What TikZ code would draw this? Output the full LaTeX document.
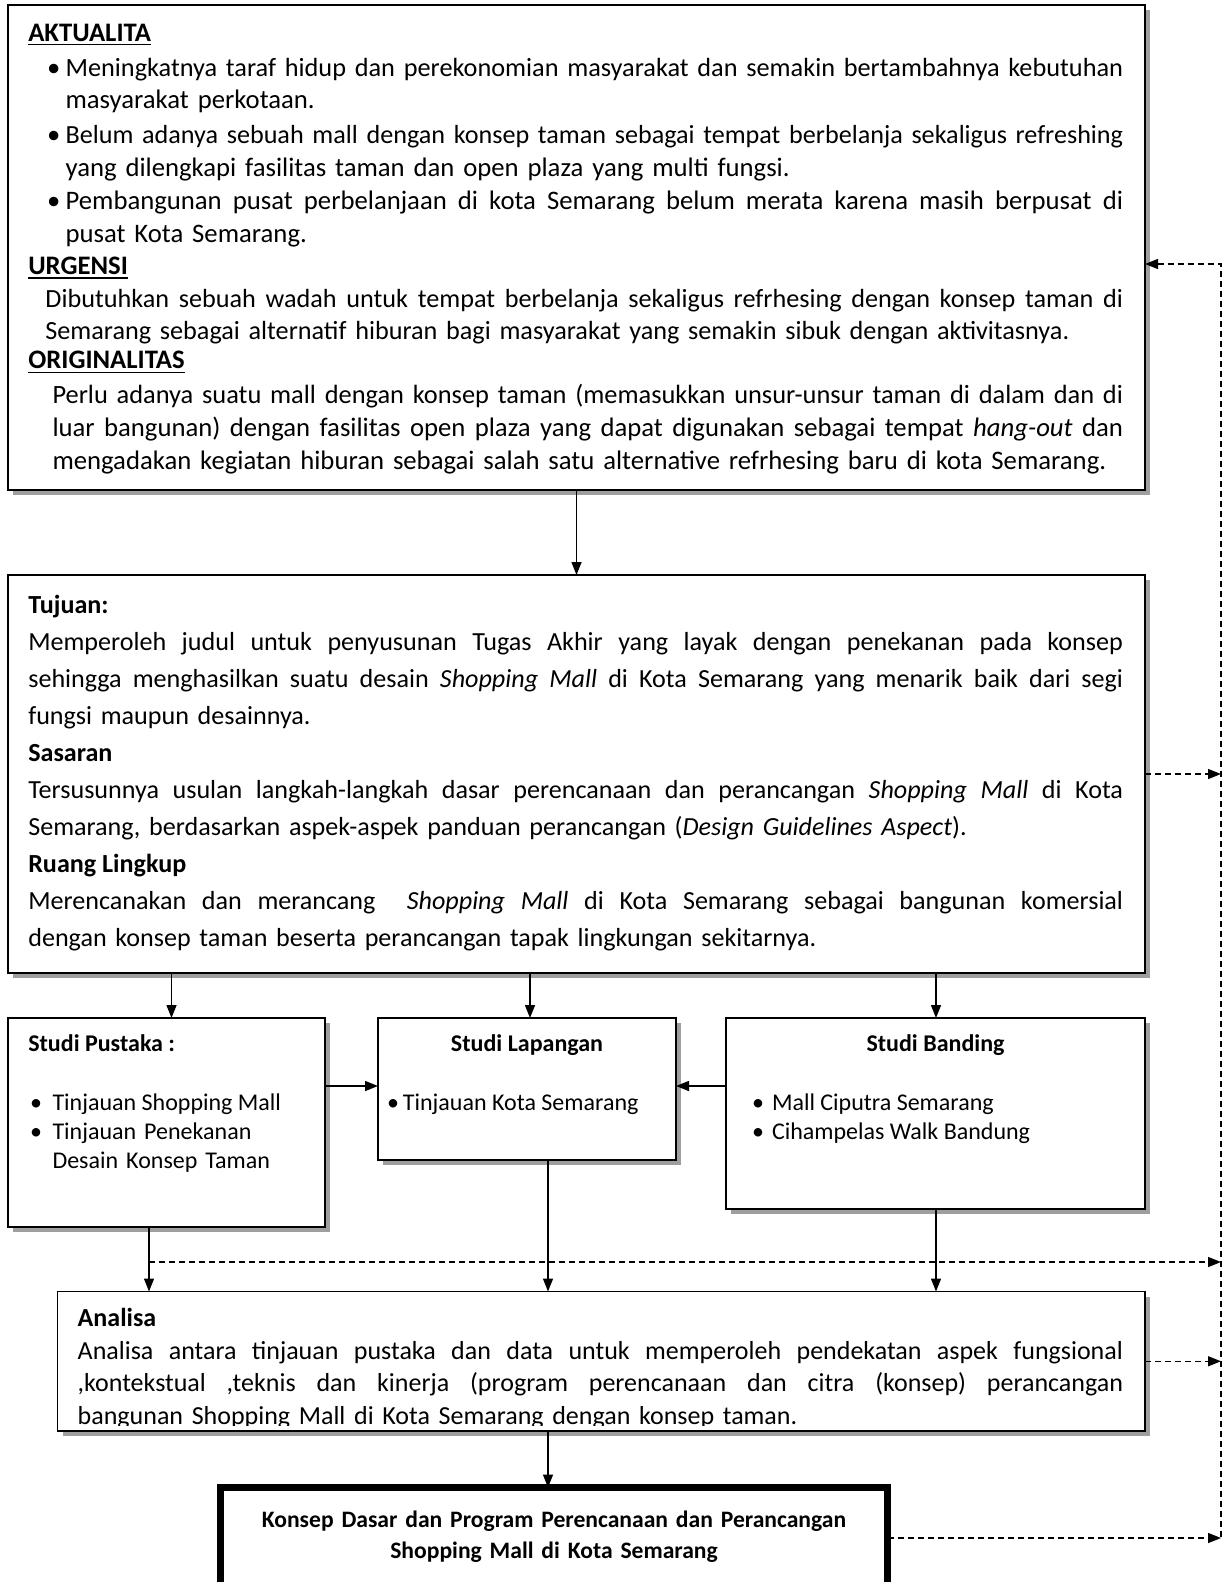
\documentclass[tikz,border=0pt]{standalone}
\usepackage{fontspec}
\usepackage{graphicx}
\setmainfont{Carlito}
\usetikzlibrary{arrows.meta,shadows}
\newsavebox\jlbox
\newcommand\jline[1]{\leavevmode\sbox\jlbox{#1}%
  \ifdim\wd\jlbox>\hsize\resizebox{\hsize}{!}{#1}%
  \else\hbox to\hsize{\spaceskip=0.226em plus 1fil\relax\xspaceskip=\spaceskip #1}\fi}
\newcommand\fmain{\fontsize{26.7}{32.8}\selectfont}
\newcommand\furg{\fontsize{26.2}{32.8}\selectfont}
\newcommand\ftuj{\fontsize{26.1}{37}\selectfont}
\newcommand\fana{\fontsize{26.0}{32.5}\selectfont}
\newcommand\fsm{\fontsize{24.0}{29}\selectfont}
\newcommand\fkon{\fontsize{23.6}{31}\selectfont}
\begin{document}
\begin{tikzpicture}[x=1pt,y=-1pt,
  box/.style={draw=black, line width=1.6pt, fill=white, rectangle, anchor=north west,
    inner sep=0pt, outer sep=0pt,
    drop shadow={shadow xshift=5pt, shadow yshift=-5pt, fill=black!38, opacity=1}},
  kbox/.style={draw=black, line width=7pt, fill=white, rectangle, anchor=north west,
    inner sep=0pt, outer sep=0pt},
  txt/.style={inner sep=0pt, outer sep=0pt, anchor=base west, align=left},
  ctxt/.style={inner sep=0pt, outer sep=0pt, anchor=base, align=center},
  arr/.style={line width=1.4pt, -{Triangle[length=13pt,width=10pt]}},
  dsh/.style={line width=1.4pt, dash pattern=on 6pt off 4pt},
  uline/.style={line width=1.8pt}
]
\useasboundingbox (0,0) rectangle (1227,1582);

% ---------- boxes ----------
\node[box, minimum width=1137pt, minimum height=485pt] (top) at (8,5) {};
\node[box, minimum width=1137pt, minimum height=398pt] (tuj) at (8,575) {};
\node[box, minimum width=317pt, minimum height=209pt] (pus) at (8,1018) {};
\node[box, minimum width=298pt, minimum height=142pt] (lap) at (378,1018) {};
\node[box, minimum width=419pt, minimum height=191pt] (ban) at (726,1018) {};
\node[box, minimum width=1087.5pt, minimum height=139.5pt] (ana) at (57.5,1291.5) {};
\node[kbox, minimum width=667pt, minimum height=101pt] (kon) at (220.5,1487.5) {};

% ---------- top box text ----------
\node[txt, font=\fmain\bfseries] (akt) at (28.3,41) {AKTUALITA};
\draw[uline] ([yshift=-3.5pt]akt.base west) -- ([yshift=-3.5pt]akt.base east);
\node[txt, font=\fmain] (bu1) at (47,76) {•};
\node[txt, font=\fmain, text width=1057.4pt] (b1) at (65.6,76)
  {\jline{Meningkatnya taraf hidup dan perekonomian masyarakat dan semakin bertambahnya kebutuhan}\\
   masyarakat perkotaan.};
\node[txt, font=\fmain] (bu2) at (47,143.6) {•};
\node[txt, font=\fmain, text width=1057.4pt] (b2) at (65.6,143.6)
  {\jline{Belum adanya sebuah mall dengan konsep taman sebagai tempat berbelanja sekaligus refreshing}\\
   yang dilengkapi fasilitas taman dan open plaza yang multi fungsi.};
\node[txt, font=\fmain] (bu3) at (47,209.2) {•};
\node[txt, font=\fmain, text width=1057.4pt] (b3) at (65.6,209.2)
  {\jline{Pembangunan pusat perbelanjaan di kota Semarang belum merata karena masih berpusat di}\\
   pusat Kota Semarang.};
\node[txt, font=\fmain\bfseries] (urg) at (28.3,274.8) {URGENSI};
\draw[uline] ([yshift=-3.5pt]urg.base west) -- ([yshift=-3.5pt]urg.base east);
\node[txt, font=\furg, text width=1077.6pt] (urgt) at (45.4,307.1)
  {\jline{Dibutuhkan sebuah wadah untuk tempat berbelanja sekaligus refrhesing dengan konsep taman di}\\
   Semarang sebagai alternatif hiburan bagi masyarakat yang semakin sibuk dengan aktivitasnya.};
\node[txt, font=\fmain\bfseries] (ori) at (28.3,368.9) {ORIGINALITAS};
\draw[uline] ([yshift=-3.5pt]ori.base west) -- ([yshift=-3.5pt]ori.base east);
\node[txt, font=\fmain, text width=1070.5pt] (orit) at (52.5,403.9)
  {\jline{Perlu adanya suatu mall dengan konsep taman (memasukkan unsur-unsur taman di dalam dan di}\\
   \jline{luar bangunan) dengan fasilitas open plaza yang dapat digunakan sebagai tempat \textit{hang-out} dan}\\
   mengadakan kegiatan hiburan sebagai salah satu alternative refrhesing baru di kota Semarang.};

% ---------- tujuan box text ----------
\node[txt, font=\ftuj\bfseries] (tjh) at (28.3,613) {Tujuan:};
\node[txt, font=\ftuj, text width=1094.7pt] (tjt) at (28.3,650)
  {\jline{Memperoleh judul untuk penyusunan Tugas Akhir yang layak dengan penekanan pada konsep}\\
   \jline{sehingga menghasilkan suatu desain \textit{Shopping Mall} di Kota Semarang yang menarik baik dari segi}\\
   fungsi maupun desainnya.};
\node[txt, font=\ftuj\bfseries] (ssh) at (28.3,761) {Sasaran};
\node[txt, font=\ftuj, text width=1094.7pt] (sst) at (28.3,798)
  {\jline{Tersusunnya usulan langkah-langkah dasar perencanaan dan perancangan \textit{Shopping Mall} di Kota}\\
   Semarang, berdasarkan aspek-aspek panduan perancangan (\textit{Design Guidelines Aspect}).};
\node[txt, font=\ftuj\bfseries] (rlh) at (28.3,872) {Ruang Lingkup};
\node[txt, font=\ftuj, text width=1094.7pt] (rlt) at (28.3,909)
  {\jline{Merencanakan dan merancang \ \textit{Shopping Mall} di Kota Semarang sebagai bangunan komersial}\\
   dengan konsep taman beserta perancangan tapak lingkungan sekitarnya.};

% ---------- studi boxes text ----------
\node[txt, font=\fsm\bfseries] (push) at (28.3,1051) {Studi Pustaka :};
\node[txt, font=\fsm] (pb1) at (30,1110) {•};
\node[txt, font=\fsm] (pt1) at (52.5,1110) {Tinjauan Shopping Mall};
\node[txt, font=\fsm] (pb2) at (30,1139) {•};
\node[txt, font=\fsm, text width=260pt] (pt2) at (52.5,1139) {Tinjauan Penekanan\\Desain Konsep Taman};

\node[ctxt, font=\fsm\bfseries] (laph) at (lap.north |- 0,1051) {Studi Lapangan};
\node[txt, font=\fsm] (lt1) at (387,1110) {•\,Tinjauan Kota Semarang};

\node[ctxt, font=\fsm\bfseries] (banh) at (ban.north |- 0,1051) {Studi Banding};
\node[txt, font=\fsm] (bb1) at (752,1110) {•};
\node[txt, font=\fsm] (bt1) at (772,1110) {Mall Ciputra Semarang};
\node[txt, font=\fsm] (bb2) at (752,1139) {•};
\node[txt, font=\fsm] (bt2) at (772,1139) {Cihampelas Walk Bandung};

% ---------- analisa text ----------
\node[txt, font=\fana\bfseries] (anh) at (77.7,1326.5) {Analisa};
\begin{scope}
\clip (60,1295) rectangle (1140,1425);
\node[txt, font=\fana, text width=1045.3pt] (ant) at (77.7,1359)
  {\jline{Analisa antara tinjauan pustaka dan data untuk memperoleh pendekatan aspek fungsional}\\
   \jline{,kontekstual ,teknis dan kinerja (program perencanaan dan citra (konsep) perancangan}\\
   bangunan Shopping Mall di Kota Semarang dengan konsep taman.};
\end{scope}

% ---------- konsep text ----------
\node[ctxt, font=\fkon\bfseries, text width=650pt] (kt) at (554,1527)
  {Konsep Dasar dan Program Perencanaan dan Perancangan\\Shopping Mall di Kota Semarang};

% ---------- connectors ----------
\coordinate (cP) at (171.5,0);
\coordinate (cL) at (530,0);
\coordinate (cB) at (936,0);
\coordinate (dP) at (149,0);
\coordinate (dL) at (548,0);
\coordinate (hS) at (0,1086);
\coordinate (R) at (1221,0);
\coordinate (Rtop) at (1221,264);
\coordinate (dY) at (0,1262);

\draw[arr] (top.south) -- (tuj.north);
\draw[arr] (cP |- tuj.south) -- (cP |- pus.north);
\draw[arr] (cL |- tuj.south) -- (cL |- lap.north);
\draw[arr] (cB |- tuj.south) -- (cB |- ban.north);
\draw[arr] (pus.east |- hS) -- (lap.west |- hS);
\draw[arr] (ban.west |- hS) -- (lap.east |- hS);
\draw[arr] (dP |- pus.south) -- (dP |- ana.north);
\draw[arr] (dL |- lap.south) -- (dL |- ana.north);
\draw[arr] (cB |- ban.south) -- (cB |- ana.north);
\draw[arr] (dL |- ana.south) -- (dL |- kon.north);

\coordinate (dS) at (dP |- dY);
\draw[dsh, -{Triangle[length=13pt,width=10pt]}] (dS) -- (R |- dY);
\draw[dsh, -{Triangle[length=13pt,width=10pt]}] (tuj.east) -- (R |- tuj.east);
\draw[dsh, -{Triangle[length=13pt,width=10pt]}] (ana.east) -- (R |- ana.east);
\draw[dsh, -{Triangle[length=13pt,width=10pt]}] (kon.east) -- (R |- kon.east);
\draw[dsh, {Triangle[length=13pt,width=10pt]}-] (top.east |- Rtop) -- (Rtop) -- (R |- kon.east);
\end{tikzpicture}
\end{document}
